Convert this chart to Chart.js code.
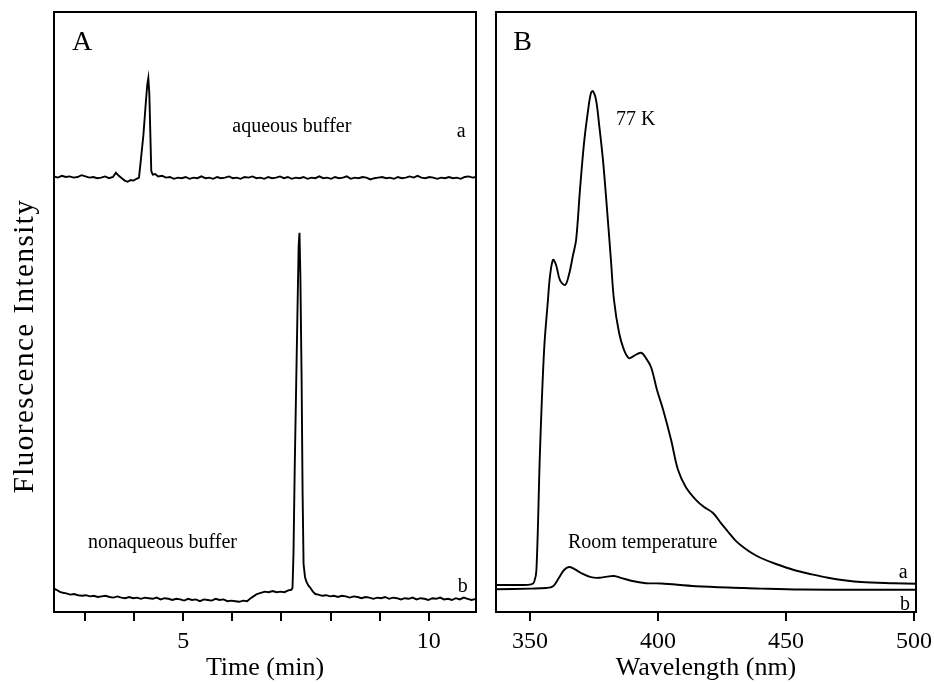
<!DOCTYPE html>
<html><head><meta charset="utf-8">
<script src="https://cdn.jsdelivr.net/npm/chart.js@4"></script>
<style>
html,body{margin:0;padding:0;background:#fff;}
#wrap{position:relative;width:934px;height:684px;background:#fff;}
#ca{position:absolute;left:0;top:0;}
#cb{position:absolute;left:480px;top:0;}
</style></head><body>
<div id="wrap"><canvas id="ca" width="480" height="684"></canvas><canvas id="cb" width="454" height="684"></canvas></div>
<script>
// ---------- Panel A data (time in min, arbitrary intensity) ----------
const timeAq = [2.37,2.45,2.53,2.61,2.69,2.77,2.85,2.93,3.01,3.09,3.17,3.25,3.33,3.41,3.49,3.57,3.63,3.69,3.75,3.81,3.87,3.93,3.99,4.05,4.10,4.14,4.19,4.24,4.27,4.29,4.31,4.33,4.35,4.38,4.43,4.49,4.57,4.65,4.73,4.81,4.89,4.97,5.05,5.13,5.21,5.29,5.37,5.45,5.53,5.61,5.69,5.77,5.85,5.93,6.01,6.09,6.17,6.25,6.33,6.41,6.49,6.57,6.65,6.73,6.81,6.89,6.97,7.05,7.13,7.21,7.29,7.37,7.45,7.53,7.61,7.69,7.77,7.85,7.93,8.01,8.09,8.17,8.25,8.33,8.41,8.49,8.57,8.65,8.73,8.81,8.89,8.97,9.05,9.13,9.21,9.29,9.37,9.45,9.53,9.61,9.69,9.77,9.85,9.93,10.01,10.09,10.17,10.25,10.33,10.41,10.49,10.57,10.65,10.73,10.81,10.89,10.96];
const aqueous = [72.6,72.4,72.7,72.5,72.6,72.4,72.5,72.8,72.6,72.4,72.5,72.3,72.4,72.6,72.3,72.5,73.2,72.7,72.3,71.9,71.7,72.0,71.9,72.2,72.4,75.5,79.5,85.0,88.0,89.0,86.5,80.0,73.5,72.9,73.0,72.6,72.7,72.4,72.5,72.2,72.4,72.3,72.5,72.2,72.4,72.3,72.6,72.3,72.4,72.2,72.5,72.3,72.4,72.6,72.3,72.4,72.2,72.5,72.4,72.6,72.3,72.4,72.2,72.5,72.3,72.4,72.6,72.3,72.5,72.2,72.4,72.3,72.5,72.2,72.4,72.3,72.6,72.3,72.4,72.2,72.5,72.3,72.4,72.6,72.2,72.4,72.3,72.5,72.4,72.1,72.3,72.4,72.5,72.3,72.4,72.2,72.5,72.3,72.4,72.6,72.4,72.7,72.4,72.3,72.5,72.4,72.2,72.4,72.3,72.5,72.3,72.4,72.2,72.5,72.6,72.4,72.5];
const timeNon = [2.37,2.42,2.48,2.55,2.62,2.70,2.78,2.86,2.94,3.02,3.10,3.18,3.26,3.34,3.42,3.50,3.58,3.66,3.74,3.82,3.90,3.98,4.06,4.14,4.22,4.30,4.38,4.46,4.54,4.62,4.70,4.78,4.86,4.94,5.02,5.10,5.18,5.26,5.34,5.42,5.50,5.58,5.66,5.74,5.82,5.90,5.98,6.06,6.14,6.22,6.30,6.36,6.43,6.50,6.58,6.66,6.74,6.82,6.90,6.98,7.06,7.14,7.20,7.225,7.245,7.27,7.30,7.33,7.35,7.367,7.385,7.41,7.43,7.45,7.48,7.51,7.55,7.59,7.64,7.69,7.75,7.83,7.91,7.99,8.07,8.15,8.23,8.31,8.39,8.47,8.55,8.63,8.71,8.79,8.87,8.95,9.03,9.11,9.19,9.27,9.35,9.43,9.51,9.59,9.67,9.75,9.83,9.91,9.99,10.07,10.15,10.23,10.31,10.39,10.47,10.55,10.63,10.71,10.79,10.87,10.96];
const nonaqueous = [3.9,3.7,3.4,3.2,3.1,2.9,3.0,2.8,2.7,2.8,2.6,2.7,2.5,2.6,2.7,2.5,2.4,2.6,2.4,2.3,2.5,2.3,2.4,2.2,2.4,2.3,2.2,2.4,2.1,2.3,2.2,2.0,2.2,2.1,1.9,2.2,2.0,2.1,1.8,2.1,2.0,1.9,2.2,2.0,2.1,1.8,1.9,1.8,1.7,1.9,1.8,2.2,2.6,3.0,3.2,3.4,3.3,3.5,3.3,3.4,3.3,3.6,3.7,4.0,9.8,24,38,52,61,63.2,56,39,20,8,5.8,5.0,4.4,4.0,3.4,3.0,2.9,2.7,2.8,2.6,2.7,2.5,2.7,2.6,2.4,2.6,2.5,2.3,2.5,2.4,2.2,2.4,2.3,2.5,2.2,2.4,2.3,2.1,2.3,2.2,2.4,2.1,2.3,2.2,2.0,2.3,2.2,2.4,2.1,2.2,2.0,2.3,2.1,2.4,2.2,2.0,2.2];
const timeTicks = [3,4,5,6,7,8,9,10];
const timeLabeled = [5,10];

// ---------- Panel B data (wavelength in nm, arbitrary intensity) ----------
const wl77K = [336.7,346.5,350.4,351.6,352.5,353.9,355.5,357.0,357.8,359.0,360.2,361.7,363.7,365.2,366.8,368.0,369.5,371.1,372.7,373.8,374.6,375.8,377.0,378.5,380.1,381.6,382.8,384.8,386.7,388.7,390.6,393.4,395.3,397.3,399.6,402.0,405.1,407.8,410.9,414.8,418.0,421.5,424.6,427.7,430.5,433.6,437.1,440.2,446.1,453.1,459.8,466.4,473.4,479.3,492.2,500.8];
const int77K = [4.5,4.5,4.6,5.0,7.0,27,43.7,52,56,58.7,57.8,55.3,54.5,56.2,59.5,62,70.3,78.2,83.7,86.5,86.8,85.3,81.2,75.3,67,58.7,52,46.5,43.7,42.3,42.7,43.2,42.3,40.8,37,33.7,28.7,23.7,20.8,18.7,17.5,16.5,14.8,13.2,11.8,10.7,9.7,9.0,8.0,7.0,6.3,5.7,5.25,5.0,4.8,4.7];
const wlRT = [336.7,350.4,356.3,359.0,361.3,363.3,365.2,367.2,369.9,373.8,377.0,380.1,382.8,385.5,389.5,395.3,401.2,414.8,433.6,440.2,455.9,479.3,500.8];
const intRT = [3.8,3.9,4.0,4.3,5.7,7.0,7.5,7.2,6.5,5.8,5.7,5.9,6.0,5.7,5.2,4.8,4.75,4.3,4.0,3.9,3.75,3.7,3.7];
const wlTicks = [350,400,450,500];

const SERIF = "'Liberation Serif','DejaVu Serif',serif";

function pts(xs, ys){ return xs.map((x,i)=>({x:x, y:ys[i]})); }

const framePlugin = {
  id:'frame',
  afterDraw(chart, args, opts){
    const {ctx, chartArea:a, scales} = chart;
    ctx.save();
    ctx.strokeStyle = '#000'; ctx.lineWidth = 2;
    ctx.strokeRect(a.left, a.top, a.right-a.left, a.bottom-a.top);
    ctx.fillStyle = '#000';
    (opts.labels||[]).forEach(l=>{
      ctx.font = l.size + 'px ' + SERIF;
      ctx.textAlign = 'left'; ctx.textBaseline = 'alphabetic';
      ctx.fillText(l.text, scales.x.getPixelForValue(l.x), scales.y.getPixelForValue(l.y));
    });
    if (opts.ytitle){
      ctx.font = opts.ytitle.size + 'px ' + SERIF;
      try { ctx.letterSpacing = opts.ytitle.spacing; } catch(e) {}
      ctx.translate(opts.ytitle.px, opts.ytitle.py);
      ctx.rotate(-Math.PI/2);
      ctx.textAlign='center'; ctx.textBaseline='middle';
      ctx.fillText(opts.ytitle.text, 0, 0);
    }
    ctx.restore();
  }
};

function makeChart(id, datasets, xmin, xmax, ticks, labeled, title, padding, labels, ytitle){
  return new Chart(document.getElementById(id), {
    type:'line',
    data:{datasets: datasets.map(d=>({data:d, borderColor:'#000', borderWidth:1.9, pointRadius:0, tension:d.tension||0, fill:false}))},
    options:{
      responsive:false, animation:false, devicePixelRatio:1,
      layout:{padding:padding},
      plugins:{legend:{display:false}, tooltip:{enabled:false}, frame:{labels:labels, ytitle:ytitle}},
      scales:{
        x:{type:'linear', min:xmin, max:xmax,
           afterBuildTicks(s){ s.ticks = ticks.map(v=>({value:v})); },
           afterFit(s){ s.height = 72; s.paddingLeft = 0; s.paddingRight = 0; },
           ticks:{autoSkip:false, maxRotation:0, padding:6, color:'#000', font:{family:SERIF, size:24},
                  callback:(v)=> labeled.includes(v) ? String(v) : ''},
           grid:{display:true, drawOnChartArea:false, drawTicks:true, tickLength:9, color:'#000', lineWidth:2},
           border:{display:false},
           title:{display:true, text:title, color:'#000', font:{family:SERIF, size:26}, padding:{top:0,bottom:0}}
        },
        y:{display:false, min:0, max:100}
      }
    },
    plugins:[framePlugin]
  });
}

const dsA1 = pts(timeAq, aqueous);
const dsA2 = pts(timeNon, nonaqueous);
makeChart('ca', [dsA1, dsA2], 2.37, 10.96, timeTicks, timeLabeled, 'Time (min)',
  {left:54, right:4, top:12, bottom:0},
  [
    {text:'A', x:2.735, y:93.7, size:28},
    {text:'aqueous buffer', x:6.0, y:80.0, size:20},
    {text:'a', x:10.57, y:79.2, size:20},
    {text:'nonaqueous buffer', x:3.06, y:10.7, size:20},
    {text:'b', x:10.59, y:3.3, size:20}
  ],
  {text:'Fluorescence Intensity', px:25, py:346, size:29, spacing:'1.5px'});

const dsB1 = pts(wl77K, int77K); dsB1.tension = 0.35;
const dsB2 = pts(wlRT, intRT); dsB2.tension = 0.35;
makeChart('cb', [dsB1, dsB2], 336.7, 500.8, wlTicks, wlTicks, 'Wavelength (nm)',
  {left:16, right:18, top:12, bottom:0},
  [
    {text:'B', x:343.4, y:93.7, size:28},
    {text:'77 K', x:383.6, y:81.2, size:20},
    {text:'Room temperature', x:364.8, y:10.7, size:20},
    {text:'a', x:494.1, y:5.7, size:20},
    {text:'b', x:494.5, y:0.4, size:20}
  ], null);
</script>
</body></html>
